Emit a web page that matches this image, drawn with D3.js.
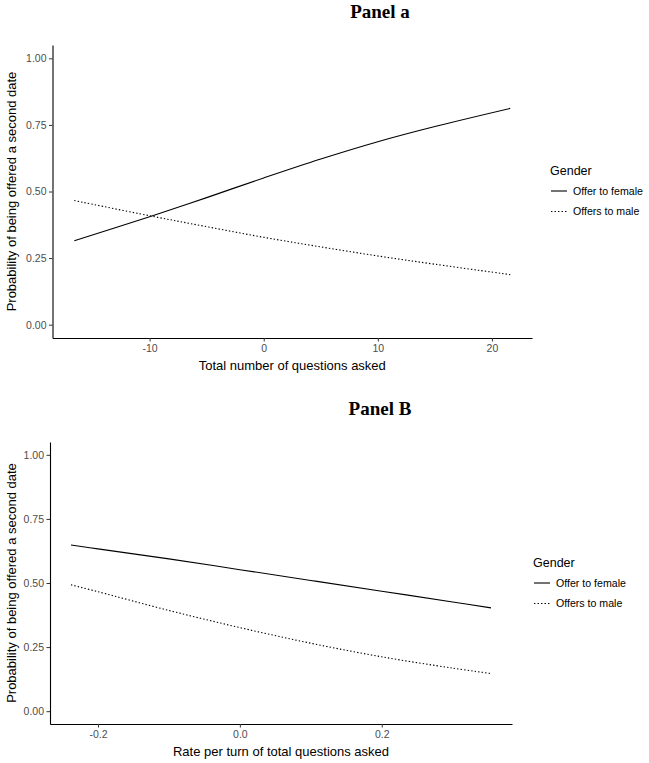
<!DOCTYPE html>
<html>
<head>
<meta charset="utf-8">
<script src="https://cdn.jsdelivr.net/npm/d3@7"></script>
<style>
  html, body { margin: 0; padding: 0; background: #fff; }
  svg { display: block; }
</style>
</head>
<body>
<svg id="chart" width="649" height="763"></svg>
<script>
// ---- Data ----
const seriesNames = ["Offer to female", "Offers to male"];
const legendTitle = "Gender";
const yTicks = [0, 0.25, 0.5, 0.75, 1];
const yLabel = "Probability of being offered a second date";

// Panel a
const panelATitle = "Panel a";
const panelAXLabel = "Total number of questions asked";
const panelAX = [-16.6, -10, -5, 0, 5, 10, 15, 21.6];
const panelAFemale = [0.315, 0.405, 0.477, 0.551, 0.622, 0.687, 0.744, 0.812];
const panelAMale = [0.466, 0.409, 0.368, 0.328, 0.292, 0.258, 0.227, 0.188];
const panelAXTicks = [-10, 0, 10, 20];

// Panel B
const panelBTitle = "Panel B";
const panelBXLabel = "Rate per turn of total questions asked";
const panelBX = [-0.238, -0.2, -0.1, 0, 0.1, 0.2, 0.3, 0.354];
const panelBFemale = [0.648, 0.633, 0.594, 0.552, 0.510, 0.468, 0.426, 0.403];
const panelBMale = [0.493, 0.466, 0.393, 0.326, 0.265, 0.212, 0.168, 0.147];
const panelBXTicks = [-0.2, 0.0, 0.2];

const svg = d3.select("#chart");
const dashes = [null, "1.4,2.1"];
const hyphen = f => (v => f(v).replace("\u2212", "-"));

function drawPanel(cfg) {
  const g = svg.append("g");
  const xs = cfg.xs;
  const xmin = d3.min(xs), xmax = d3.max(xs), xr = xmax - xmin;
  const x = d3.scaleLinear()
    .domain([xmin - 0.05 * xr, xmax + 0.05 * xr])
    .range([cfg.left, cfg.right]);
  const y = d3.scaleLinear().domain([-0.05, 1.05]).range([cfg.bottom, cfg.top]);

  // title
  g.append("text")
    .attr("x", cfg.titleX).attr("y", cfg.titleY)
    .attr("text-anchor", "middle")
    .style("font-family", "'Liberation Serif', 'Times New Roman', serif")
    .style("font-weight", "bold")
    .style("font-size", "19px")
    .text(cfg.title);

  // y axis
  const yAxis = d3.axisLeft(y).tickValues(yTicks).tickFormat(d3.format(".2f"))
    .tickSize(3.5).tickSizeOuter(0).tickPadding(2.5);
  const ya = g.append("g").attr("transform", `translate(${cfg.left},0)`).call(yAxis);
  // x axis
  const xAxis = d3.axisBottom(x).tickValues(cfg.xTicks).tickFormat(hyphen(cfg.xFormat))
    .tickSize(3.5).tickSizeOuter(0).tickPadding(3);
  const xa = g.append("g").attr("transform", `translate(0,${cfg.bottom})`).call(xAxis);

  [ya, xa].forEach(a => {
    a.select(".domain").attr("stroke", "#000").attr("stroke-width", 1.1);
    a.selectAll(".tick line").attr("stroke", "#333").attr("stroke-width", 1);
    a.selectAll(".tick text")
      .attr("fill", "#4d4d4d")
      .style("font-family", "'Liberation Sans', Arial, sans-serif")
      .style("font-size", "10.5px");
  });

  // axis titles
  g.append("text")
    .attr("x", (cfg.left + cfg.right) / 2).attr("y", cfg.bottom + 32)
    .attr("text-anchor", "middle")
    .style("font-family", "'Liberation Sans', Arial, sans-serif")
    .style("font-size", "13px")
    .attr("fill", "#000")
    .text(cfg.xLabel);
  g.append("text")
    .attr("transform", `translate(16,${(cfg.top + cfg.bottom) / 2}) rotate(-90)`)
    .attr("text-anchor", "middle")
    .style("font-family", "'Liberation Sans', Arial, sans-serif")
    .style("font-size", "13px")
    .attr("fill", "#000")
    .text(yLabel);

  // lines
  const line = d3.line().x(d => x(d[0])).y(d => y(d[1])).curve(d3.curveCatmullRom);
  [cfg.female, cfg.male].forEach((vals, i) => {
    g.append("path")
      .datum(xs.map((v, k) => [v, vals[k]]))
      .attr("d", line)
      .attr("fill", "none")
      .attr("stroke", "#000")
      .attr("stroke-width", 1.1)
      .attr("stroke-dasharray", dashes[i]);
  });

  // legend
  const lg = g.append("g").attr("transform", `translate(${cfg.legX},${cfg.legY})`);
  lg.append("text").attr("x", 0).attr("y", 4.5)
    .style("font-family", "'Liberation Sans', Arial, sans-serif")
    .style("font-size", "12.5px").attr("fill", "#000").text(legendTitle);
  seriesNames.forEach((name, i) => {
    const yy = 21 + i * 20.5;
    lg.append("line").attr("x1", 1).attr("x2", 17).attr("y1", yy).attr("y2", yy)
      .attr("stroke", "#000").attr("stroke-width", 1.1).attr("stroke-dasharray", dashes[i]);
    lg.append("text").attr("x", 23).attr("y", yy + 3.7)
      .style("font-family", "'Liberation Sans', Arial, sans-serif")
      .style("font-size", "10.6px").attr("fill", "#000").text(name);
  });
}

drawPanel({
  title: panelATitle, titleX: 380, titleY: 18,
  xs: panelAX, female: panelAFemale, male: panelAMale,
  xTicks: panelAXTicks, xFormat: d3.format("d"), xLabel: panelAXLabel,
  left: 52.5, right: 532, top: 45, bottom: 338,
  legX: 550, legY: 170
});

drawPanel({
  title: panelBTitle, titleX: 380, titleY: 415,
  xs: panelBX, female: panelBFemale, male: panelBMale,
  xTicks: panelBXTicks, xFormat: d3.format(".1f"), xLabel: panelBXLabel,
  left: 50, right: 512, top: 442, bottom: 724,
  legX: 533, legY: 562
});
</script>
</body>
</html>
